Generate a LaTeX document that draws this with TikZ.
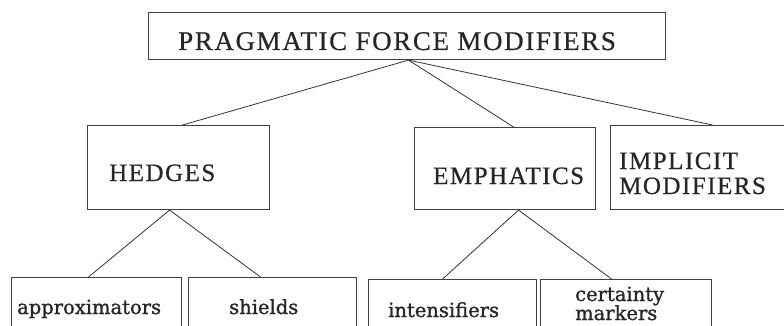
\documentclass[tikz,border=0pt]{standalone}
\usepackage{fontspec}
\setmainfont{Liberation Serif}
\newfontfamily\capsfont[LetterSpace=6,FakeBold=0.6]{Liberation Serif}
\newfontfamily\childfont[FakeBold=1.2]{DejaVu Serif}
\tikzset{
  box/.style={draw=black!75, line width=1.1pt, rectangle, inner sep=0pt, anchor=north west},
  txt/.style={anchor=base west, inner sep=0pt, text=black!85},
  conn/.style={draw=black!80, line width=0.8pt},
  bigtxt/.style={txt, font=\capsfont\fontsize{27}{30}\selectfont},
  midtxt/.style={txt, font=\capsfont\fontsize{25}{27}\selectfont},
  smalltxt/.style={txt, font=\childfont\fontsize{19.5}{21}\selectfont},
}
\begin{document}
\begin{tikzpicture}[x=1pt,y=-1pt]
\useasboundingbox (0,0) rectangle (784,326);
\clip (0,0) rectangle (784,326);
% boxes
\node[box, minimum width=517pt, minimum height=47pt] (top) at (148,12) {};
\node[box, minimum width=182pt, minimum height=84pt] (hedges) at (87,125) {};
\node[box, minimum width=181pt, minimum height=82pt] (emph) at (414,127) {};
\node[box, minimum width=200pt, minimum height=84pt] (impl) at (610,125) {};
\node[box, minimum width=170pt, minimum height=70pt] (appr) at (11,277) {};
\node[box, minimum width=168pt, minimum height=70pt] (shld) at (188,277) {};
\node[box, minimum width=168pt, minimum height=70pt] (intens) at (368,279) {};
\node[box, minimum width=171pt, minimum height=70pt] (cert) at (540,279) {};
% texts
\node[bigtxt] (ttop) at (178,50) {PRAGMATIC FORCE MODIFIERS};
\node[midtxt] (thedges) at (109,181) {HEDGES};
\node[midtxt] (temph) at (433,184) {EMPHATICS};
\node[midtxt] (timpl1) at (619,169) {IMPLICIT};
\node[midtxt] (timpl2) at (619,194) {MODIFIERS};
\node[smalltxt] (tappr) at (17,314) {approximators};
\node[smalltxt] (tshld) at (229,314) {shields};
\node[smalltxt] (tint) at (388,317) {intensifiers};
\node[smalltxt] (tcert1) at (575,301) {certainty};
\node[smalltxt] (tcert2) at (575,320) {markers};
% connectors
\draw[conn] ([xshift=1.5pt]top.south) -- ([xshift=4pt]hedges.north);
\draw[conn] ([xshift=1.5pt]top.south) -- ([xshift=8.5pt]emph.north);
\draw[conn] ([xshift=1.5pt]top.south) -- ([xshift=2pt]impl.north);
\draw[conn] ([xshift=-9pt]hedges.south) -- ([xshift=-8pt]appr.north);
\draw[conn] ([xshift=-9pt]hedges.south) -- ([xshift=-12pt]shld.north);
\draw[conn] ([xshift=13.5pt]emph.south) -- ([xshift=-10pt]intens.north);
\draw[conn] ([xshift=13.5pt]emph.south) -- ([xshift=-14.5pt]cert.north);
\end{tikzpicture}
\end{document}
